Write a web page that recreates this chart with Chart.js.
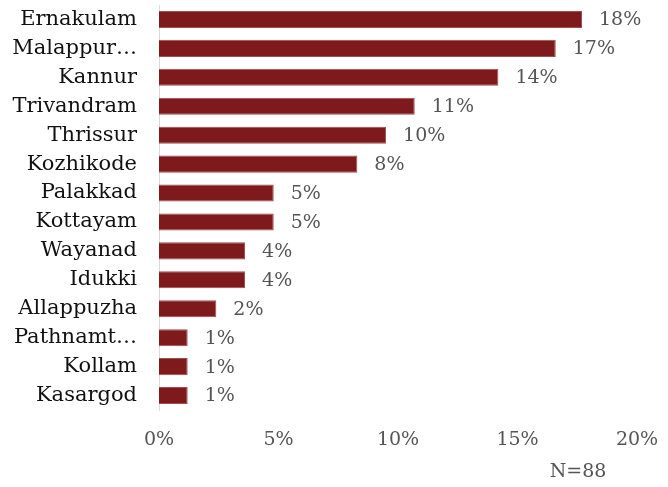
<!DOCTYPE html>
<html>
<head>
<meta charset="utf-8">
<script src="https://cdn.jsdelivr.net/npm/chart.js@4.4.0/dist/chart.umd.min.js"></script>
<style>
  html, body { margin: 0; padding: 0; background: #fff; }
  #wrap { width: 668px; height: 487px; }
</style>
</head>
<body>
<div id="wrap"><canvas id="distritos"></canvas></div>
<script>
const districts = [
    "Ernakulam", "Malappur…", "Kannur", "Trivandram", "Thrissur", "Kozhikode", "Palakkad",
    "Kottayam", "Wayanad", "Idukki", "Allappuzha", "Pathnamt…", "Kollam", "Kasargod"
];
const shares = [17.7, 16.6, 14.2, 10.7, 9.5, 8.3, 4.8, 4.8, 3.6, 3.6, 2.4, 1.2, 1.2, 1.2];
const xTicks = [0, 5, 10, 15, 20];
const sampleNote = "N=88";

const serif = "'DejaVu Serif', 'Liberation Serif', serif";

// percent labels at the end of each bar, plus the sample size note
const valueLabels = {
    id: "valueLabels",
    afterDatasetsDraw(chart) {
        const ctx = chart.ctx;
        const meta = chart.getDatasetMeta(0);
        ctx.save();
        ctx.font = "19px " + serif;
        ctx.fillStyle = "#555";
        ctx.textAlign = "left";
        ctx.textBaseline = "middle";
        meta.data.forEach((bar, i) => {
            ctx.fillText(Math.round(shares[i]) + "%", bar.x + 17, bar.y + 1);
        });
        ctx.textAlign = "center";
        ctx.fillText(sampleNote, chart.chartArea.right - 59, 472);
        ctx.restore();
    }
};

new Chart(document.getElementById("distritos"), {
    type: "bar",
    data: {
        labels: districts,
        datasets: [
            {
                label: "Share",
                data: shares,
                backgroundColor: "#7f1a1c",
                borderColor: "#9c4e50",
                borderWidth: 1,
                barPercentage: 0.59,
                categoryPercentage: 1,
            },
        ],
    },
    options: {
        indexAxis: "y",
        responsive: true,
        maintainAspectRatio: false,
        animation: false,
        layout: { padding: { top: 5, right: 31, bottom: 0, left: 0 } },
        plugins: {
            legend: { display: false },
            tooltip: { enabled: false },
        },
        scales: {
            x: {
                min: 0,
                max: 20,
                afterBuildTicks(scale) {
                    scale.ticks = xTicks.map(v => ({ value: v }));
                },
                afterFit(scale) {
                    scale.height = 77;
                    scale.paddingLeft = 0;
                    scale.paddingRight = 0;
                },
                grid: { display: false, drawTicks: false },
                border: { display: false },
                ticks: {
                    padding: 19,
                    color: "#555",
                    font: { family: serif, size: 19 },
                    callback: v => v + "%",
                },
            },
            y: {
                afterFit(scale) {
                    scale.width = 159;
                    scale.paddingTop = 0;
                    scale.paddingBottom = 0;
                },
                grid: { display: true, color: "rgba(0,0,0,0)", drawTicks: false },
                border: { display: true, color: "#d9d9d9", width: 1 },
                ticks: {
                    padding: 22,
                    color: "#111",
                    font: { family: serif, size: 21 },
                    autoSkip: false,
                },
            },
        },
    },
    plugins: [valueLabels],
});
</script>
</body>
</html>
